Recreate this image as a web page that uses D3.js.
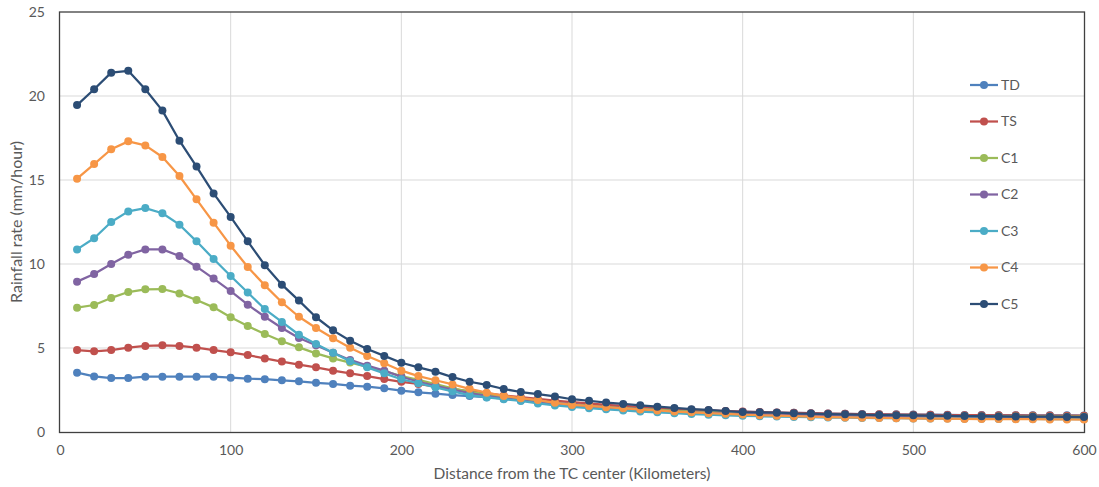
<!DOCTYPE html>
<html><head><meta charset="utf-8">
<script src="https://cdn.jsdelivr.net/npm/d3@7"></script>
<style>
body{margin:0;background:#fff;}
svg text{font-family:Lato, "Open Sans", sans-serif;fill:#595959;}
</style></head>
<body><svg id="chart" width="1099" height="487"></svg>
<script>
const distances = d3.range(10, 601, 10);
const seriesNames = ["TD","TS","C1","C2","C3","C4","C5"];
const seriesColors = ["#4F81BD","#C0504D","#9BBB59","#8064A2","#4BACC6","#F79646","#2C4D75"];
const xTicks = [0,100,200,300,400,500,600];
const yTicks = [0,5,10,15,20,25];

const TD = [3.53,3.31,3.21,3.21,3.29,3.29,3.29,3.29,3.29,3.23,
  3.17,3.14,3.08,3.02,2.93,2.86,2.76,2.70,2.60,2.46,
  2.36,2.28,2.20,2.14,2.07,1.98,1.90,1.82,1.74,1.67,
  1.60,1.54,1.48,1.43,1.39,1.34,1.30,1.27,1.24,1.21,
  1.18,1.16,1.14,1.12,1.10,1.08,1.07,1.06,1.05,1.04,
  1.03,1.02,1.01,1.01,1.00,1.00,0.99,0.99,0.99,0.98];
const TS = [4.88,4.80,4.88,5.02,5.12,5.16,5.12,5.02,4.88,4.74,
  4.58,4.38,4.19,4.01,3.85,3.65,3.49,3.33,3.15,2.99,
  2.86,2.70,2.55,2.42,2.30,2.18,2.07,1.97,1.87,1.78,
  1.70,1.62,1.55,1.49,1.43,1.38,1.33,1.29,1.25,1.22,
  1.19,1.16,1.14,1.12,1.10,1.08,1.06,1.05,1.04,1.03,
  1.02,1.01,1.00,1.00,0.99,0.99,0.98,0.98,0.97,0.97];
const C1 = [7.40,7.56,7.98,8.33,8.49,8.51,8.25,7.86,7.42,6.83,
  6.31,5.83,5.40,5.04,4.68,4.38,4.13,3.89,3.63,3.33,
  3.10,2.85,2.60,2.40,2.22,2.07,1.94,1.82,1.71,1.62,
  1.54,1.47,1.41,1.36,1.31,1.26,1.22,1.19,1.15,1.12,
  1.10,1.08,1.06,1.04,1.02,1.01,0.99,0.98,0.97,0.96,
  0.95,0.95,0.94,0.93,0.93,0.92,0.92,0.91,0.91,0.91];
const C2 = [8.95,9.40,10.00,10.55,10.87,10.87,10.48,9.84,9.13,8.39,
  7.58,6.86,6.19,5.60,5.16,4.72,4.29,3.95,3.65,3.29,
  2.99,2.75,2.52,2.32,2.15,2.00,1.88,1.76,1.65,1.56,
  1.49,1.42,1.36,1.31,1.26,1.21,1.17,1.14,1.11,1.08,
  1.06,1.04,1.02,1.00,0.99,0.97,0.96,0.95,0.94,0.93,
  0.92,0.91,0.91,0.90,0.90,0.89,0.89,0.88,0.88,0.88];
const C3 = [10.87,11.53,12.50,13.13,13.33,13.02,12.34,11.35,10.30,9.29,
  8.30,7.32,6.55,5.79,5.24,4.72,4.21,3.85,3.49,3.14,
  2.90,2.66,2.42,2.20,2.06,1.95,1.85,1.70,1.58,1.49,
  1.42,1.35,1.28,1.22,1.17,1.12,1.07,1.03,0.99,0.96,
  0.94,0.92,0.90,0.88,0.86,0.85,0.84,0.83,0.82,0.81,
  0.80,0.80,0.79,0.79,0.78,0.78,0.78,0.77,0.77,0.77];
const C4 = [15.08,15.95,16.83,17.30,17.06,16.37,15.24,13.85,12.46,11.09,
  9.82,8.73,7.72,6.86,6.19,5.58,5.02,4.52,4.09,3.65,
  3.33,3.08,2.83,2.57,2.34,2.15,2.01,1.90,1.74,1.61,
  1.55,1.48,1.41,1.34,1.28,1.22,1.17,1.12,1.08,1.04,
  1.00,0.97,0.94,0.92,0.89,0.87,0.85,0.84,0.82,0.81,
  0.80,0.79,0.78,0.77,0.77,0.76,0.76,0.75,0.75,0.74];
const C5 = [19.46,20.40,21.39,21.50,20.40,19.13,17.34,15.80,14.20,12.80,
  11.35,9.93,8.77,7.82,6.83,6.05,5.43,4.94,4.53,4.12,
  3.85,3.59,3.27,2.99,2.80,2.56,2.38,2.26,2.12,1.95,
  1.86,1.75,1.67,1.59,1.51,1.43,1.36,1.31,1.25,1.19,
  1.17,1.15,1.11,1.10,1.07,1.05,1.04,1.01,1.00,0.99,
  0.97,0.96,0.95,0.94,0.93,0.92,0.91,0.91,0.90,0.89];
const seriesValues = [TD,TS,C1,C2,C3,C4,C5];

const svg = d3.select("#chart");
const L = 60, R = 1084, T = 12, B = 432;
const x = d3.scaleLinear().domain([0,600]).range([L,R]);
const y = d3.scaleLinear().domain([0,25]).range([B,T]);

// gridlines
svg.append("g").selectAll("line").data(yTicks.filter(d=>d>0 && d<25)).join("line")
  .attr("x1",L).attr("x2",R).attr("y1",d=>y(d)).attr("y2",d=>y(d))
  .attr("stroke","#d9d9d9").attr("stroke-width",1);
svg.append("g").selectAll("line").data(xTicks.filter(d=>d>0 && d<600)).join("line")
  .attr("y1",T).attr("y2",B).attr("x1",d=>x(d)).attr("x2",d=>x(d))
  .attr("stroke","#d9d9d9").attr("stroke-width",1);

// axes
const xAxis = svg.append("g").attr("transform",`translate(0,${B})`)
  .call(d3.axisBottom(x).tickValues(xTicks).tickSize(0).tickPadding(13));
const yAxis = svg.append("g").attr("transform",`translate(${L},0)`)
  .call(d3.axisLeft(y).tickValues(yTicks).tickSize(0).tickPadding(15));
[xAxis,yAxis].forEach(a=>{
  a.select(".domain").remove();
  a.selectAll("text").style("font-size","14px").style("font-family","Lato, sans-serif").attr("fill","#595959");
});

// frame
svg.append("rect").attr("x",L-0.5).attr("y",T).attr("width",R-L+1).attr("height",B-T+0.5)
  .attr("fill","none").attr("stroke","#404040").attr("stroke-width",1.3);

// series
const line = d3.line().x((d,i)=>x(distances[i])).y(d=>y(d));
seriesNames.forEach((name,si)=>{
  const g = svg.append("g");
  const col = seriesColors[si];
  g.append("path").datum(seriesValues[si]).attr("d",line)
    .attr("fill","none").attr("stroke",col).attr("stroke-width",2.25).attr("stroke-linejoin","round");
  g.selectAll("circle").data(seriesValues[si]).join("circle")
    .attr("cx",(d,i)=>x(distances[i])).attr("cy",d=>y(d)).attr("r",4).attr("fill",col);
});

// legend
const leg = svg.append("g");
seriesNames.forEach((name,si)=>{
  const ly = 85 + si*36.5;
  leg.append("line").attr("x1",970).attr("x2",998).attr("y1",ly).attr("y2",ly)
    .attr("stroke",seriesColors[si]).attr("stroke-width",2.25);
  leg.append("circle").attr("cx",984).attr("cy",ly).attr("r",4).attr("fill",seriesColors[si]);
  leg.append("text").attr("x",1001).attr("y",ly).attr("dy","0.35em")
    .style("font-size","14px").text(name);
});

// axis titles
svg.append("text").attr("x",572).attr("y",479).attr("text-anchor","middle")
  .style("font-size","15.5px").text("Distance from the TC center (Kilometers)");
svg.append("text").attr("transform",`translate(22,${(T+B)/2}) rotate(-90)`)
  .attr("text-anchor","middle").style("font-size","16px").text("Rainfall rate (mm/hour)");
</script></body></html>
